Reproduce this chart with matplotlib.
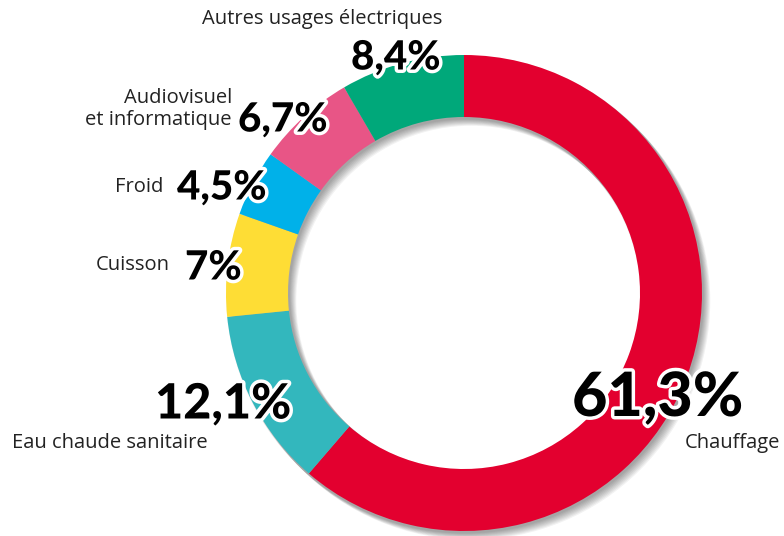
import matplotlib
matplotlib.use("Agg")
import matplotlib.pyplot as plt
import matplotlib.patheffects as pe
from matplotlib.patches import Wedge

# ---- data ----
categories = ["Chauffage", "Eau chaude sanitaire", "Cuisson", "Froid",
              "Audiovisuel\net informatique", "Autres usages électriques"]
values = [61.3, 12.1, 7.0, 4.5, 6.7, 8.4]
colors = ["#E3002F", "#33B7BD", "#FEDD35", "#00B1E9", "#E85586", "#00A87A"]

def fmt(v):
    s = f"{v:.1f}".rstrip("0").rstrip(".")
    return s.replace(".", ",") + "%"

W, H = 784, 536
fig = plt.figure(figsize=(W / 100, H / 100), dpi=100)
ax = fig.add_axes([0, 0, 1, 1])

cx, cy = 464, H - 293
R, ring = 238, 62

# soft drop shadow
for i in range(8):
    ax.add_patch(Wedge((cx + 1.0 + i * 0.9, cy - 1.5 - i * 0.9), R + 1, 0, 360,
                       width=ring + 2, facecolor="black", alpha=0.05,
                       edgecolor="none", zorder=1))

ax.pie(values, colors=colors, startangle=90, counterclock=False,
       radius=R, center=(cx, cy),
       wedgeprops=dict(width=ring, edgecolor="none", linewidth=0, zorder=2))

ax.set_xlim(0, W)
ax.set_ylim(0, H)
ax.set_aspect("equal")
ax.axis("off")

name_font = dict(family=["Open Sans", "DejaVu Sans"], color="#222222")
pct_font = dict(family=["Lato", "DejaVu Sans"], weight="black", color="black")
stroke = [pe.withStroke(linewidth=5, foreground="white")]

def Y(py):
    return H - py

# category names: (x, y, ha, size)
name_pos = [
    (780, 443, "right", 14.5),
    (208, 443, "right", 14.5),
    (170, 265, "right", 14.5),
    (163, 187, "right", 14.5),
    (232, 109, "right", 14.5),
    (322, 19, "center", 14.5),
]
# percentage labels: (x, y, ha, size)
pct_pos = [
    (572, 398, "left", 44),
    (155, 404, "left", 35),
    (185, 268, "left", 29),
    (177, 188, "left", 29),
    (238, 120, "left", 29),
    (351, 58, "left", 29),
]

for name, v, (nx, ny, nha, ns), (px, py, pha, ps) in zip(categories, values, name_pos, pct_pos):
    ax.text(nx, Y(ny), name, ha=nha, va="center", fontsize=ns,
            linespacing=1.15, zorder=5, **name_font)
    ax.text(px, Y(py), fmt(v), ha=pha, va="center", fontsize=ps,
            path_effects=stroke, zorder=6, **pct_font)

fig.savefig("out.png", dpi=100, facecolor="white")
